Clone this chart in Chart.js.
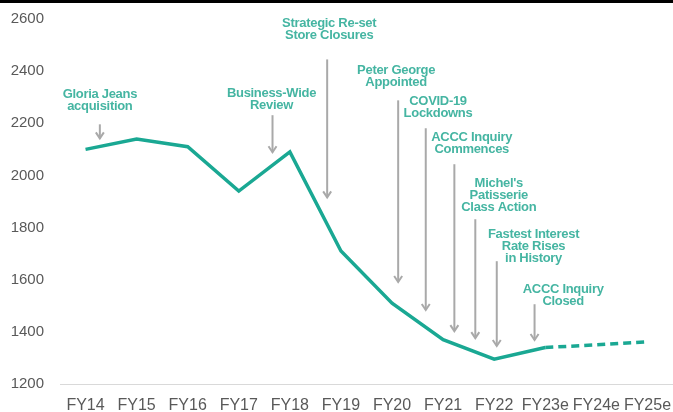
<!DOCTYPE html>
<html>
<head>
<meta charset="utf-8">
<script src="https://cdn.jsdelivr.net/npm/chart.js@4/dist/chart.umd.min.js"></script>
<style>
  html, body { margin: 0; padding: 0; background: #fff; }
  #wrap { width: 673px; height: 412px; border-top: 3px solid #000; box-sizing: border-box; }
</style>
</head>
<body>
<div id="wrap"><canvas id="storesChart"></canvas></div>
<script>
const years = ['FY14', 'FY15', 'FY16', 'FY17', 'FY18', 'FY19', 'FY20', 'FY21', 'FY22', 'FY23e', 'FY24e', 'FY25e'];
const storeCount = [2100, 2140, 2110, 1940, 2090, 1710, 1510, 1370, 1295, 1340, 1350, 1362];
const yTicks = [1200, 1400, 1600, 1800, 2000, 2200, 2400, 2600];

// event callouts, positions in data units (x = category index)
const eventText = [
    ['Gloria Jeans', 'acquisition'],
    ['Business-Wide', 'Review'],
    ['Strategic Re-set', 'Store Closures'],
    ['Peter George', 'Appointed'],
    ['COVID-19', 'Lockdowns'],
    ['ACCC Inquiry', 'Commences'],
    ["Michel's", 'Patisserie', 'Class Action'],
    ['Fastest Interest', 'Rate Rises', 'in History'],
    ['ACCC Inquiry', 'Closed']
];
const eventTextX = [0.28, 3.64, 4.77, 6.08, 6.90, 7.56, 8.09, 8.77, 9.35];
const eventTextY = [2311, 2315, 2583, 2403, 2284, 2146, 1970, 1775, 1564];
const arrowX = [0.28, 3.66, 4.73, 6.12, 6.66, 7.22, 7.63, 8.05, 8.79];
const arrowTop = [2196, 2231, 2445, 2288, 2181, 2043, 1832, 1671, 1506];
const arrowBottom = [2142, 2089, 1916, 1591, 1484, 1403, 1376, 1346, 1369];

const firstEstimate = years.indexOf('FY23e');

const callouts = {
    id: 'callouts',
    afterDatasetsDraw(chart) {
        const ctx = chart.ctx;
        const xs = chart.scales.x, ys = chart.scales.y;
        ctx.save();
        // arrows
        ctx.strokeStyle = '#a9a9a9';
        ctx.lineWidth = 2;
        arrowX.forEach((ax, i) => {
            const x = xs.getPixelForValue(ax);
            const t = ys.getPixelForValue(arrowTop[i]);
            const b = ys.getPixelForValue(arrowBottom[i]);
            ctx.beginPath();
            ctx.moveTo(x, t);
            ctx.lineTo(x, b);
            ctx.stroke();
            ctx.beginPath();
            ctx.moveTo(x - 4, b - 6);
            ctx.lineTo(x, b);
            ctx.lineTo(x + 4, b - 6);
            ctx.stroke();
        });
        // labels
        ctx.fillStyle = '#45b5a2';
        ctx.font = 'bold 13px "Liberation Sans", Arial, sans-serif';
        ctx.letterSpacing = '-0.3px';
        ctx.textAlign = 'center';
        ctx.textBaseline = 'middle';
        eventText.forEach((lines, i) => {
            const x = xs.getPixelForValue(eventTextX[i]);
            const y = ys.getPixelForValue(eventTextY[i]);
            lines.forEach((s, k) => ctx.fillText(s, x, y + k * 12));
        });
        ctx.restore();
    }
};

const ctx = document.getElementById('storesChart').getContext('2d');

const storesChart = new Chart(ctx, {
    type: 'line',
    data: {
        labels: years,
        datasets: [{
            data: storeCount,
            borderColor: '#1aa893',
            borderWidth: 3.5,
            pointRadius: 0,
            tension: 0,
            segment: {
                borderDash: c => c.p0DataIndex >= firstEstimate ? [8, 5] : undefined
            }
        }]
    },
    options: {
        responsive: true,
        maintainAspectRatio: false,
        animation: false,
        layout: { padding: { left: 10, top: 16, right: 0, bottom: 0 } },
        plugins: {
            legend: { display: false },
            tooltip: { enabled: false }
        },
        scales: {
            x: {
                offset: true,
                grid: { display: false, drawTicks: false },
                border: { display: true, color: '#d9d9d9', width: 1 },
                afterFit: axis => { axis.height = 28; axis.paddingLeft = 0; axis.paddingRight = 0; },
                ticks: {
                    color: '#595959',
                    padding: 12,
                    maxRotation: 0,
                    autoSkip: false,
                    font: { family: '"Liberation Sans", Arial, sans-serif', size: 16 }
                }
            },
            y: {
                min: 1200,
                max: 2600,
                afterBuildTicks: axis => { axis.ticks = yTicks.map(v => ({ value: v })); },
                afterFit: axis => { axis.width = 50; axis.paddingTop = 0; axis.paddingBottom = 0; },
                grid: { display: false, drawTicks: false },
                border: { display: false },
                ticks: {
                    color: '#595959',
                    padding: 16,
                    callback: v => String(v),
                    font: { family: '"Liberation Sans", Arial, sans-serif', size: 15 }
                }
            }
        }
    },
    plugins: [callouts]
});
</script>
</body>
</html>
